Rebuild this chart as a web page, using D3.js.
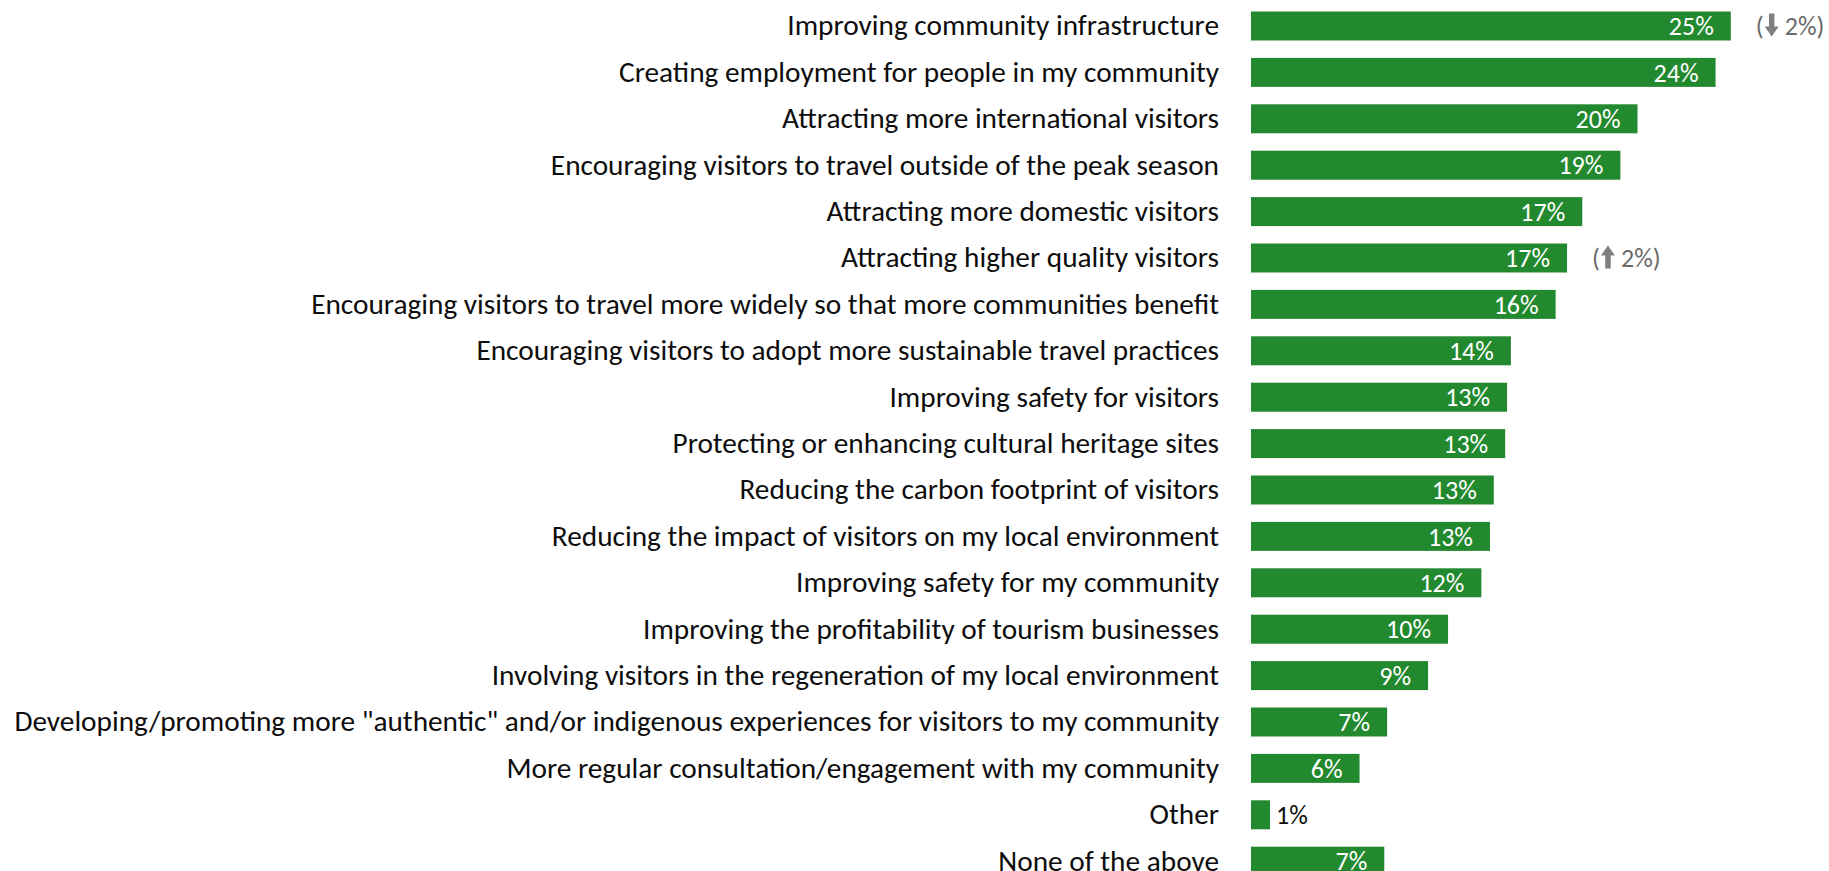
<!DOCTYPE html>
<html>
<head>
<meta charset="utf-8">
<script src="https://cdn.jsdelivr.net/npm/d3@7"></script>
<style>
  html, body { margin: 0; padding: 0; background: #fff; }
  svg { display: block; }
  text { font-family: Carlito, Calibri, "Liberation Sans", sans-serif; }
</style>
</head>
<body>
<svg id="chart" width="1829" height="871"></svg>
<script>
// Share of respondents choosing each tourism priority (%)
const categories = [
  "Improving community infrastructure",
  "Creating employment for people in my community",
  "Attracting more international visitors",
  "Encouraging visitors to travel outside of the peak season",
  "Attracting more domestic visitors",
  "Attracting higher quality visitors",
  "Encouraging visitors to travel more widely so that more communities benefit",
  "Encouraging visitors to adopt more sustainable travel practices",
  "Improving safety for visitors",
  "Protecting or enhancing cultural heritage sites",
  "Reducing the carbon footprint of visitors",
  "Reducing the impact of visitors on my local environment",
  "Improving safety for my community",
  "Improving the profitability of tourism businesses",
  "Involving visitors in the regeneration of my local environment",
  "Developing/promoting more \"authentic\" and/or indigenous experiences for visitors to my community",
  "More regular consultation/engagement with my community",
  "Other",
  "None of the above"
];
const values = [25.2, 24.4, 20.3, 19.4, 17.4, 16.6, 16.0, 13.65, 13.45, 13.35, 12.75, 12.55, 12.1, 10.35, 9.3, 7.15, 5.7, 1.0, 7.0];

// Change versus previous wave, shown next to selected bars
const changeCategories = ["Improving community infrastructure", "Attracting higher quality visitors"];
const changeDirections = ["down", "up"];
const changeValues = [2, 2];

const data = categories.map((c, i) => ({ category: c, value: values[i] }));
const changes = changeCategories.map((c, i) => ({ category: c, dir: changeDirections[i], delta: changeValues[i] }));

const svg = d3.select("#chart");
const green = "#22892f";
const labelSize = 29.3;
const valueSize = 26;
const fmt = v => d3.format(".0f")(v) + "%";

const x = d3.scaleLinear().domain([0, 25]).range([1251, 1727]);
const y = d3.scaleBand()
  .domain(categories)
  .range([2.8, 2.8 + categories.length * 46.4])
  .paddingInner(0.375)
  .paddingOuter(0.1875);

const cy = d => y(d) + y.bandwidth() / 2;

// Category labels, right-aligned against the bars
svg.append("g")
  .selectAll("text")
  .data(data)
  .join("text")
  .attr("x", x(0) - 32)
  .attr("y", d => cy(d.category) + labelSize * 0.32)
  .attr("text-anchor", "end")
  .attr("fill", "#0d0d0d")
  .style("font-size", labelSize + "px")
  .text(d => d.category);

// Bars
svg.append("g")
  .selectAll("rect")
  .data(data)
  .join("rect")
  .attr("x", x(0))
  .attr("y", d => y(d.category))
  .attr("width", d => x(d.value) - x(0))
  .attr("height", y.bandwidth())
  .attr("fill", green);

// Value labels: inside the bar when it fits, otherwise just past its end
const vals = svg.append("g")
  .selectAll("text")
  .data(data)
  .join("text")
  .attr("y", d => cy(d.category) + valueSize * 0.35)
  .style("font-size", valueSize + "px")
  .text(d => fmt(d.value));

vals.each(function(d) {
  const w = this.getComputedTextLength();
  const barW = x(d.value) - x(0);
  const t = d3.select(this);
  if (barW > w + 24) {
    t.attr("x", x(d.value) - 17).attr("text-anchor", "end").attr("fill", "#ffffff");
  } else {
    t.attr("x", x(d.value) + 6).attr("text-anchor", "start").attr("fill", "#0d0d0d");
  }
});

// Change annotations: "(arrow n%)"
const valueOf = c => values[categories.indexOf(c)];
const ann = svg.append("g")
  .selectAll("g")
  .data(changes)
  .join("g")
  .attr("transform", d => `translate(${x(valueOf(d.category)) + 25},${cy(d.category)})`);

ann.each(function(d) {
  const g = d3.select(this);
  const open = g.append("text")
    .attr("x", 0).attr("y", valueSize * 0.35)
    .attr("fill", "#6b6b6b")
    .style("font-size", valueSize + "px")
    .text("(");
  const ax = open.node().getComputedTextLength() + 1;
  // block arrow: shaft plus triangular head
  const sw = 5.5, hw = 14, h = 23, hh = 10;
  const top = -12.5;
  let pts;
  if (d.dir === "down") {
    pts = [[hw/2 - sw/2, top], [hw/2 + sw/2, top], [hw/2 + sw/2, top + h - hh], [hw, top + h - hh],
           [hw/2, top + h], [0, top + h - hh], [hw/2 - sw/2, top + h - hh]];
  } else {
    pts = [[hw/2, top], [hw, top + hh], [hw/2 + sw/2, top + hh], [hw/2 + sw/2, top + h],
           [hw/2 - sw/2, top + h], [hw/2 - sw/2, top + hh], [0, top + hh]];
  }
  g.append("path")
    .attr("transform", `translate(${ax},0)`)
    .attr("d", d3.line()(pts) + "Z")
    .attr("fill", "#7f7f7f");
  g.append("text")
    .attr("x", ax + hw + 6).attr("y", valueSize * 0.35)
    .attr("fill", "#6b6b6b")
    .style("font-size", valueSize + "px")
    .text(d.delta + "%)");
});
</script>
</body>
</html>
